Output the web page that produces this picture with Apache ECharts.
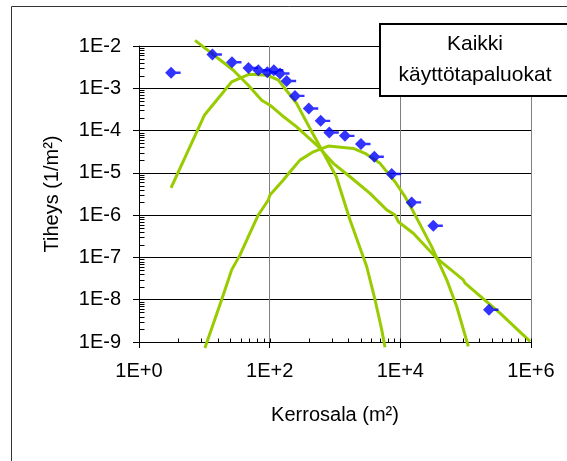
<!DOCTYPE html>
<html>
<head>
<meta charset="utf-8">
<script src="https://cdn.jsdelivr.net/npm/echarts@6/dist/echarts.min.js"></script>
<style>
  html, body { margin: 0; padding: 0; background: #fff; }
  #chart { width: 567px; height: 461px; }
</style>
</head>
<body>
<div id="chart"></div>
<script>
// Observed densities (floor area m², density 1/m²)
const obsX = [3.1, 13.3, 26.5, 47.4, 67, 92, 116, 144, 182, 244, 397, 604, 818, 1420, 2500, 4000, 7380, 14900, 32000, 227500];
const obsY = [2.33e-3, 6.3e-3, 4.12e-3, 3.01e-3, 2.67e-3, 2.39e-3, 2.67e-3, 2.23e-3, 1.49e-3, 6.6e-4, 3.33e-4, 1.7e-4, 9.0e-5, 7.5e-5, 4.8e-5, 2.4e-5, 9.4e-6, 2.0e-6, 5.6e-7, 5.8e-9];

// Fitted component curves
const fitAX = [3.09, 10.0, 26.1, 49.1, 93, 136.5, 258, 429, 716, 1047, 1698, 3055, 4096, 5190, 5824];
const fitAY = [4.4e-6, 2.3e-4, 1.41e-3, 2.15e-3, 2.03e-3, 1.55e-3, 4.4e-4, 1.02e-4, 2.4e-5, 8.1e-6, 7.7e-7, 6.1e-8, 1.0e-8, 1.95e-9, 7.5e-10];

const fitBX = [7.2, 27.8, 47.1, 75.5, 101, 153, 259, 525, 942, 1698, 3435, 6185, 8290, 9310, 15800, 36050, 92000, 97700, 335700, 966000];
const fitBY = [1.36e-2, 2.67e-3, 1.18e-3, 5.23e-4, 3.98e-4, 2.31e-4, 1.22e-4, 4.53e-5, 1.68e-5, 8.1e-6, 3.28e-6, 1.33e-6, 1.01e-6, 7.0e-7, 3.73e-7, 9.6e-8, 2.95e-8, 2.47e-8, 4.83e-9, 1.03e-9];

const fitCX = [10.2, 18.4, 26.2, 35.2, 47.1, 67, 95.3, 101, 162, 205, 291, 466, 790, 1906, 2878, 4887, 8290, 11800, 15800, 30200, 51300, 72950, 109800];
const fitCY = [7.2e-10, 9.95e-9, 5.08e-8, 1.15e-7, 3.1e-7, 1.01e-6, 2.28e-6, 2.99e-6, 6.76e-6, 1.06e-5, 2.0e-5, 3.15e-5, 4.29e-5, 3.79e-5, 2.89e-5, 1.68e-5, 6.17e-6, 2.73e-6, 1.21e-6, 1.8e-7, 2.95e-8, 6.92e-9, 7.87e-10];

// Tick labels, keyed by power of ten
const xTickExp = [0, 2, 4, 6];
const xTickLabels = ['1E+0', '1E+2', '1E+4', '1E+6'];
const yTickExp = [-9, -8, -7, -6, -5, -4, -3, -2];
const yTickLabels = ['1E-9', '1E-8', '1E-7', '1E-6', '1E-5', '1E-4', '1E-3', '1E-2'];

const xTitle = 'Kerrosala (m²)';
const yTitle = 'Tiheys (1/m²)';
const boxText = 'Kaikki\nkäyttötapaluokat';

// Minor tick positions on the log axes (x: squares within each 2-decade step)
const xMinorTicks = [];
[0, 2, 4].forEach(function (e) {
  for (let m = 2; m <= 10; m++) xMinorTicks.push(Math.pow(10, e) * m * m);
});
const yMinorTicks = [];
for (let e = -9; e <= -3; e++) {
  for (let m = 2; m <= 9; m++) yMinorTicks.push(m * Math.pow(10, e));
}

const X_MIN = 1, X_MAX = 1e6, Y_MIN = 1e-9, Y_MAX = 1e-2;

function labelFor(exps, labels) {
  return function (v) {
    const e = Math.round(Math.log10(v));
    const i = exps.indexOf(e);
    return i >= 0 ? labels[i] : '';
  };
}

function pairs(xs, ys) {
  return xs.map(function (x, i) { return [x, ys[i]]; });
}

// Short inward tick marks drawn through the axis scales
function minorTickSeries(values, onX, len) {
  return {
    type: 'custom',
    xAxisIndex: 0, yAxisIndex: 0,
    silent: true, clip: false, z: 4,
    data: values.map(function (v) { return onX ? [v, Y_MIN] : [X_MIN, v]; }),
    encode: { x: 0, y: 1 },
    renderItem: function (params, api) {
      const p = api.coord([api.value(0), api.value(1)]);
      const x = Math.round(p[0]) + 0.5;
      const y = Math.round(p[1]) + 0.5;
      return {
        type: 'line',
        shape: onX ? { x1: x, y1: y, x2: x, y2: y - len } : { x1: x, y1: y, x2: x + len, y2: y },
        style: { stroke: '#000', lineWidth: 1 }
      };
    }
  };
}

const FONT = '"Liberation Sans", Arial, Helvetica, sans-serif';
const GREEN = '#99CC00';
const GRAY = '#808080';

const chart = echarts.init(document.getElementById('chart'), null, { renderer: 'canvas' });

chart.setOption({
  animation: false,
  backgroundColor: '#ffffff',
  grid: { left: 139, right: 36, top: 46, bottom: 119, containLabel: false },
  xAxis: {
    type: 'log', logBase: 100, min: X_MIN, max: X_MAX,
    position: 'bottom',
    name: xTitle,
    nameLocation: 'middle',
    nameGap: 63,
    nameTextStyle: { fontFamily: FONT, fontSize: 20, color: '#000' },
    axisLine: { show: true, lineStyle: { color: '#000', width: 1 } },
    axisTick: { show: true, inside: false, length: 6, lineStyle: { color: '#000', width: 1 } },
    axisLabel: { show: true, margin: 19, fontFamily: FONT, fontSize: 20, color: '#000',
                 formatter: labelFor(xTickExp, xTickLabels) },
    splitLine: { show: true, showMinLine: false, lineStyle: { color: GRAY, width: 1 } }
  },
  yAxis: {
    type: 'log', logBase: 10, min: Y_MIN, max: Y_MAX,
    position: 'left',
    name: yTitle,
    nameLocation: 'middle',
    nameGap: 77,
    nameTextStyle: { fontFamily: FONT, fontSize: 20, color: '#000' },
    axisLine: { show: true, lineStyle: { color: '#000', width: 1 } },
    axisTick: { show: true, inside: false, length: 6, lineStyle: { color: '#000', width: 1 } },
    axisLabel: { show: true, margin: 18, fontFamily: FONT, fontSize: 20, color: '#000',
                 formatter: labelFor(yTickExp, yTickLabels) },
    splitLine: { show: true, lineStyle: {
      color: ['#000', '#000', '#000', '#000', '#000', '#000', '#000', GRAY], width: 1 } }
  },
  series: [
    minorTickSeries(xMinorTicks, true, 4),
    minorTickSeries(yMinorTicks, false, 5),
    { type: 'line', name: 'A', data: pairs(fitAX, fitAY),
      symbol: 'none', clip: false, z: 3, lineStyle: { color: GREEN, width: 3 } },
    { type: 'line', name: 'B', data: pairs(fitBX, fitBY),
      symbol: 'none', clip: false, z: 3, lineStyle: { color: GREEN, width: 3 } },
    { type: 'line', name: 'C', data: pairs(fitCX, fitCY),
      symbol: 'none', clip: false, z: 3, lineStyle: { color: GREEN, width: 3 } },
    { type: 'scatter', name: 'obs', data: pairs(obsX, obsY),
      symbol: 'path://M0,6L6,0L12,6L6,12Z M6,4.8L15.5,4.8L15.5,7.2L6,7.2Z',
      symbolSize: [15.5, 12], symbolOffset: [1.75, 0], z: 5,
      itemStyle: { color: '#0000FF' } }
  ],
  graphic: [
    { type: 'rect', silent: true, z: -10,
      shape: { x: 11.5, y: 6.5, width: 620, height: 520 },
      style: { fill: null, stroke: '#333', lineWidth: 1 } },
    { type: 'rect', silent: true, z: 100,
      shape: { x: 380, y: 24, width: 240, height: 72 },
      style: { fill: '#fff', stroke: '#000', lineWidth: 2 } },
    { type: 'text', silent: true, z: 101, x: 475, y: 60,
      style: { text: boxText, fontFamily: FONT, fontSize: 21, fill: '#000',
               align: 'center', verticalAlign: 'middle', lineHeight: 31 } }
  ]
});
</script>
</body>
</html>
